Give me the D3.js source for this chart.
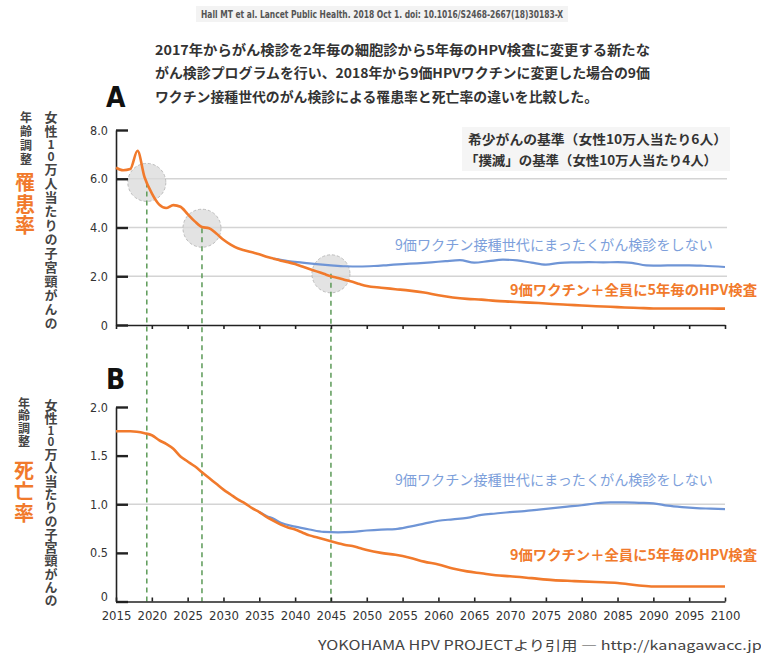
<!DOCTYPE html>
<html><head><meta charset="utf-8">
<script src="https://cdn.jsdelivr.net/npm/d3@7"></script>
<style>body{margin:0;background:#fff}</style></head>
<body><svg id="c" width="761" height="659"></svg>
<script>
// ---- Data ----
const xTicks = d3.range(2015, 2101, 5);
const yTicksA = [0, 2, 4, 6, 8];
const yTicksB = [0, 0.5, 1, 1.5, 2];
const gridA = [2, 4, 6];
const gridB = [1];

const screenYearsA = [2015,2016,2017,2018,2019,2020,2021,2022,2023,2024,2025,2026,2027,2028,2029,2030,2031,2032,2033,2034,2035,2036,2037,2038,2039,2040,2041,2042,2043,2044,2045,2046,2047,2048,2049,2050,2052,2054,2056,2058,2060,2062,2064,2066,2068,2070,2072,2074,2076,2078,2080,2082,2084,2086,2088,2090,2092,2095,2100];
const screenIncidence = [6.45,6.35,6.4,7.15,6.05,5.4,4.95,4.8,4.92,4.85,4.55,4.25,4.02,3.97,3.75,3.5,3.3,3.15,3.06,2.98,2.9,2.8,2.72,2.64,2.58,2.5,2.4,2.3,2.2,2.1,2.0,1.93,1.85,1.77,1.68,1.6,1.53,1.47,1.41,1.33,1.22,1.13,1.07,1.04,0.99,0.96,0.93,0.9,0.86,0.83,0.8,0.77,0.75,0.72,0.7,0.68,0.68,0.68,0.67];

const noScreenYearsA = [2037,2039,2041,2043,2045,2047,2049,2051,2053,2055,2057,2059,2061,2063,2065,2067,2069,2071,2073,2075,2077,2079,2081,2083,2085,2087,2089,2091,2093,2095,2097,2100];
const noScreenIncidence = [2.72,2.62,2.56,2.5,2.45,2.41,2.4,2.42,2.46,2.5,2.53,2.57,2.62,2.66,2.56,2.62,2.68,2.65,2.56,2.48,2.55,2.57,2.58,2.57,2.58,2.55,2.45,2.44,2.45,2.45,2.43,2.38];

const screenYearsB = [2015,2017,2019,2020,2021,2022,2023,2024,2025,2026,2027,2028,2029,2030,2031,2032,2033,2034,2035,2036,2037,2038,2039,2040,2041,2042,2043,2044,2045,2046,2047,2048,2049,2050,2052,2054,2056,2058,2060,2062,2064,2066,2068,2070,2073,2076,2079,2082,2085,2088,2090,2095,2100];
const screenMortality = [1.75,1.75,1.73,1.71,1.66,1.62,1.57,1.49,1.44,1.39,1.33,1.27,1.21,1.15,1.1,1.05,1.01,0.96,0.92,0.87,0.83,0.79,0.76,0.74,0.71,0.68,0.66,0.64,0.62,0.6,0.58,0.57,0.55,0.53,0.5,0.48,0.45,0.41,0.38,0.34,0.31,0.29,0.27,0.26,0.24,0.22,0.21,0.2,0.19,0.165,0.155,0.155,0.155];

const noScreenYearsB = [2035,2036,2037,2038,2040,2042,2044,2046,2048,2050,2052,2054,2056,2058,2060,2062,2064,2066,2068,2070,2072,2074,2076,2078,2080,2082,2084,2086,2088,2090,2092,2094,2096,2098,2100];
const noScreenMortality = [0.92,0.88,0.85,0.81,0.77,0.74,0.715,0.71,0.715,0.73,0.74,0.745,0.77,0.8,0.83,0.845,0.86,0.89,0.905,0.92,0.93,0.945,0.96,0.975,0.99,1.01,1.02,1.02,1.015,1.01,0.985,0.97,0.96,0.955,0.95];

const markerYears = [2019.3, 2027, 2045];
const markerValues = [5.85, 3.97, 2.1];

const headerText = "Hall MT et al. Lancet Public Health. 2018 Oct 1. doi: 10.1016/S2468-2667(18)30183-X";
const titleLines = ["2017年からがん検診を2年毎の細胞診から5年毎のHPV検査に変更する新たな",
  "がん検診プログラムを行い、2018年から9価HPVワクチンに変更した場合の9価",
  "ワクチン接種世代のがん検診による罹患率と死亡率の違いを比較した。"];
const thresholdLines = ["希少がんの基準（女性10万人当たり6人）", "「撲滅」の基準（女性10万人当たり4人）"];
const noScreenLabel = "9価ワクチン接種世代にまったくがん検診をしない";
const screenLabel = "9価ワクチン＋全員に5年毎のHPV検査";
const yLabelCommon = "女性10万人当たりの子宮頸がんの";
const yLabelAdj = "年齢調整";
const yLabelA = "罹患率";
const yLabelB = "死亡率";
const footerText = "YOKOHAMA HPV PROJECTより引用 ― http://kanagawacc.jp/";

// ---- Drawing ----
const ORANGE = "#f17a2c", BLUE = "#6f95d6", BLUE_T = "#7d9fdb", GRID = "#d4d4d4", GREEN = "#5c9a57";
const JP = "'Noto Sans CJK JP','Noto Sans',sans-serif";
const NUM = "'Liberation Sans Narrow','DejaVu Sans Condensed','Roboto',sans-serif";
const svg = d3.select("#c");

const x = d3.scaleLinear().domain([2015, 2100]).range([116, 725]);
const yA = d3.scaleLinear().domain([0, 8]).range([325, 130]);
const yB = d3.scaleLinear().domain([0, 2]).range([601.5, 407]);

// header
svg.append("rect").attr("x", 196).attr("y", 6).attr("width", 372).attr("height", 16).attr("fill", "#f3f3f3");
svg.append("text").attr("x", 382).attr("y", 18).attr("text-anchor", "middle")
  .attr("font-family", NUM).attr("font-weight", "bold").attr("font-size", 11).attr("fill", "#555")
  .attr("textLength", 362).attr("lengthAdjust", "spacingAndGlyphs").text(headerText);

// title
const titleW = [495, 495, 443];
titleLines.forEach((t, i) => {
  svg.append("text").attr("x", 155).attr("y", [55, 78, 102][i])
    .attr("font-family", JP).attr("font-weight", "bold").attr("font-size", 13.5).attr("fill", "#333")
    .attr("textLength", titleW[i]).attr("lengthAdjust", "spacingAndGlyphs").text(t);
});

// panel letters
svg.append("text").attr("x", 106).attr("y", 107).attr("font-family", NUM).attr("font-weight", "bold")
  .attr("font-size", 28).attr("fill", "#111").text("A");
svg.append("text").attr("x", 106).attr("y", 389).attr("font-family", NUM).attr("font-weight", "bold")
  .attr("font-size", 28).attr("fill", "#111").text("B");

// vertical labels: one upright character per text element
function vtext(str, cx, y0, size, pitch, digitSize, digitPitch, color) {
  let y = y0;
  for (const ch of str) {
    const isDigit = /[0-9]/.test(ch);
    const s = isDigit ? digitSize : size;
    const adv = isDigit ? digitPitch : pitch;
    svg.append("text").attr("x", cx).attr("y", y + (adv - s) / 2)
      .attr("style", "writing-mode: vertical-rl; text-orientation: upright;")
      .attr("font-family", JP).attr("font-weight", "bold").attr("font-size", s)
      .attr("fill", color).text(ch);
    y += adv;
  }
}
vtext(yLabelAdj, 26, 110, 12, 14, 12, 14, "#444");
vtext(yLabelA, 25, 172, 20, 21.5, 20, 21.5, ORANGE);
vtext(yLabelCommon, 51, 110, 13, 14.0, 12, 12, "#444");
vtext(yLabelAdj, 24, 397, 12, 12.6, 12, 12.6, "#444");
vtext(yLabelB, 24, 460, 20, 21.2, 20, 21.2, ORANGE);
vtext(yLabelCommon, 51, 398, 13, 13.29, 11.5, 11.5, "#444");

// grids
svg.append("g").selectAll("line").data(gridA).join("line")
  .attr("x1", 116).attr("x2", 727).attr("y1", d => yA(d)).attr("y2", d => yA(d))
  .attr("stroke", GRID).attr("stroke-width", 1.5);
svg.append("g").selectAll("line").data(gridB).join("line")
  .attr("x1", 116).attr("x2", 725).attr("y1", d => yB(d)).attr("y2", d => yB(d))
  .attr("stroke", GRID).attr("stroke-width", 1.5);

// threshold annotation
svg.append("rect").attr("x", 462).attr("y", 127).attr("width", 268).attr("height", 44).attr("fill", "#f5f5f5");
thresholdLines.forEach((t, i) => {
  svg.append("text").attr("x", [468, 465][i]).attr("y", [144, 165][i])
    .attr("font-family", JP).attr("font-weight", "bold").attr("font-size", 13).attr("fill", "#333")
    .attr("textLength", [259, 252][i]).attr("lengthAdjust", "spacingAndGlyphs").text(t);
});

// markers (circles)
svg.append("g").selectAll("circle").data(markerYears).join("circle")
  .attr("cx", d => x(d)).attr("cy", (d, i) => yA(markerValues[i])).attr("r", 19)
  .attr("fill", "#d9d9d9").attr("fill-opacity", 0.75)
  .attr("stroke", "#bdbdbd").attr("stroke-dasharray", "3,2").attr("stroke-width", 1);

// dashed drop lines
svg.append("g").selectAll("line").data(markerYears).join("line")
  .attr("x1", d => x(d)).attr("x2", d => x(d))
  .attr("y1", (d, i) => yA(markerValues[i])).attr("y2", yB(0))
  .attr("stroke", GREEN).attr("stroke-width", 1.5).attr("stroke-dasharray", "5,4");

// axes
function styleAxis(g) {
  g.selectAll("path.domain").attr("stroke", "#222").attr("stroke-width", 1.6);
  g.selectAll(".tick line").attr("stroke", "#222").attr("stroke-width", 1.6);
  g.selectAll("text").attr("font-family", NUM).attr("fill", "#333");
}
const fmtY = d => d === 0 ? "0" : d.toFixed(1);
svg.append("g").attr("transform", "translate(116,0)")
  .call(d3.axisLeft(yA).tickValues(yTicksA).tickFormat(fmtY).tickSizeInner(-12).tickSizeOuter(0).tickPadding(8))
  .call(styleAxis).call(g => g.selectAll(".tick line").attr("stroke-width", 2.4))
  .call(g => g.selectAll("text").attr("font-size", 12.5));
svg.append("g").attr("transform", "translate(0,325)")
  .call(d3.axisBottom(x).tickValues(xTicks).tickFormat("").tickSizeInner(4).tickSizeOuter(0))
  .call(styleAxis);
svg.append("g").attr("transform", "translate(116,0)")
  .call(d3.axisLeft(yB).tickValues(yTicksB).tickFormat(fmtY).tickSizeInner(-12).tickSizeOuter(0).tickPadding(8))
  .call(styleAxis).call(g => g.selectAll(".tick line").attr("stroke-width", 2.4))
  .call(g => g.selectAll("text").attr("font-size", 12.5))
  .call(g => g.selectAll(".tick text").filter(d => d === 0).attr("dy", "-0.05em"));
svg.append("g").attr("transform", "translate(0,601.5)")
  .call(d3.axisBottom(x).tickValues(xTicks).tickFormat(d3.format("d")).tickSizeInner(-4).tickSizeOuter(0).tickPadding(9))
  .call(styleAxis).call(g => g.selectAll("text").attr("font-size", 13));

// lines
const lineA = d3.line().x(d => x(d[0])).y(d => yA(d[1])).curve(d3.curveMonotoneX);
const lineB = d3.line().x(d => x(d[0])).y(d => yB(d[1])).curve(d3.curveMonotoneX);
svg.append("path").datum(d3.zip(noScreenYearsA, noScreenIncidence)).attr("d", lineA)
  .attr("fill", "none").attr("stroke", BLUE).attr("stroke-width", 2.2);
svg.append("path").datum(d3.zip(screenYearsA, screenIncidence)).attr("d", lineA)
  .attr("fill", "none").attr("stroke", ORANGE).attr("stroke-width", 2.6);
svg.append("path").datum(d3.zip(noScreenYearsB, noScreenMortality)).attr("d", lineB)
  .attr("fill", "none").attr("stroke", BLUE).attr("stroke-width", 2.2);
svg.append("path").datum(d3.zip(screenYearsB, screenMortality)).attr("d", lineB)
  .attr("fill", "none").attr("stroke", ORANGE).attr("stroke-width", 2.6);

// series labels
[[250, 295], [485, 560]].forEach(([yb, yo]) => {
  svg.append("text").attr("x", 395).attr("y", yb).attr("font-family", JP).attr("font-size", 14)
    .attr("fill", BLUE_T).attr("textLength", 318).attr("lengthAdjust", "spacingAndGlyphs").text(noScreenLabel);
  svg.append("text").attr("x", 510).attr("y", yo).attr("font-family", JP).attr("font-weight", "bold").attr("font-size", 14)
    .attr("fill", ORANGE).attr("textLength", 247).attr("lengthAdjust", "spacingAndGlyphs").text(screenLabel);
});

// footer
svg.append("text").attr("x", 318).attr("y", 650).attr("font-family", JP).attr("font-size", 13)
  .attr("fill", "#444").attr("textLength", 450).attr("lengthAdjust", "spacingAndGlyphs").text(footerText);
</script></body></html>
